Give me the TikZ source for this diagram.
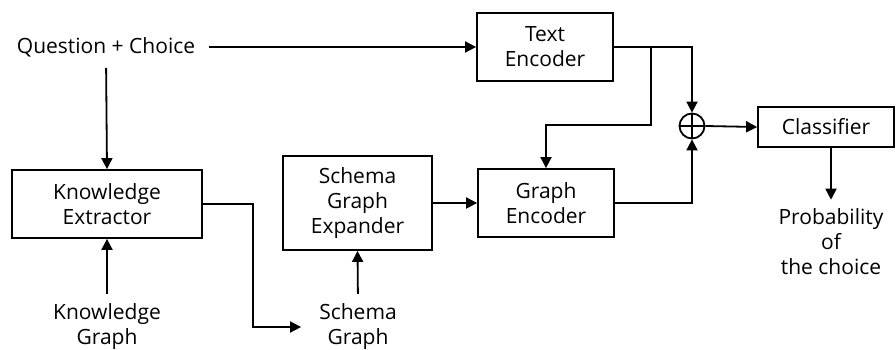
\documentclass[tikz,border=0pt]{standalone}
\usepackage{fontspec}
\setmainfont{Open Sans}
\usetikzlibrary{arrows.meta}
\begin{document}
\begin{tikzpicture}[x=1pt,y=-1pt,
  every node/.style={font=\fontsize{21}{25}\selectfont, align=center, inner sep=0pt},
  blk/.style={draw, line width=1.8pt, minimum width=136pt, minimum height=68pt},
  lbl/.style={},
  arr/.style={line width=1.8pt, -{Triangle[length=11pt,width=11pt]}},
  ln/.style={line width=1.8pt}]
\useasboundingbox (0,0) rectangle (896,350);

% blocks
\node[blk] (te) at (545,47) {Text\\Encoder};
\node[blk] (ge) at (546,203) {Graph\\Encoder};
\node[blk, minimum width=149pt, minimum height=94pt] (sge) at (357.5,203) {Schema\\Graph\\Expander};
\node[blk, minimum width=190pt] (ke) at (107,204) {Knowledge\\Extractor};
\node[blk, minimum height=40pt] (cls) at (826,127) {Classifier};
\node[draw, circle, line width=1.8pt, minimum size=25pt] (sum) at (692,126) {};
\draw[ln] (sum.north) -- (sum.south) (sum.west) -- (sum.east);

% inputs and outputs
\node[lbl] (q) at (106,47) {Question + Choice};
\node[lbl] (kg) at (107,327) {Knowledge\\Graph};
\node[lbl] (sg) at (358,327) {Schema\\Graph};
\node[lbl] (prob) at (831,242) {Probability\\of\\the choice};
\coordinate (br) at (651,47);

% connectors
\draw[arr, shorten <=14pt] (q.east) -- (te.west);
\draw[arr, shorten <=11pt] (q.south) -- (ke.north);
\draw[arr] (te.east) -| (sum.north);
\draw[arr] (br) -- ++(0,78) -| (ge.north);
\draw[arr] (sum.east) -- (cls.west);
\draw[arr] (ge.east) -| (sum.south);
\draw[arr] (sge.east) -- (ge.west);
\draw[arr, shorten <=10pt] (kg.north) -- (ke.south);
\draw[arr, shorten <=10pt] (sg.north) -- (sge.south);
\draw[arr, shorten >=18pt] (ke.east) -- ++(50,0) |- (sg.west);
\draw[arr, shorten >=9pt] (prob.north |- cls.south) -- (prob.north);
\end{tikzpicture}
\end{document}
